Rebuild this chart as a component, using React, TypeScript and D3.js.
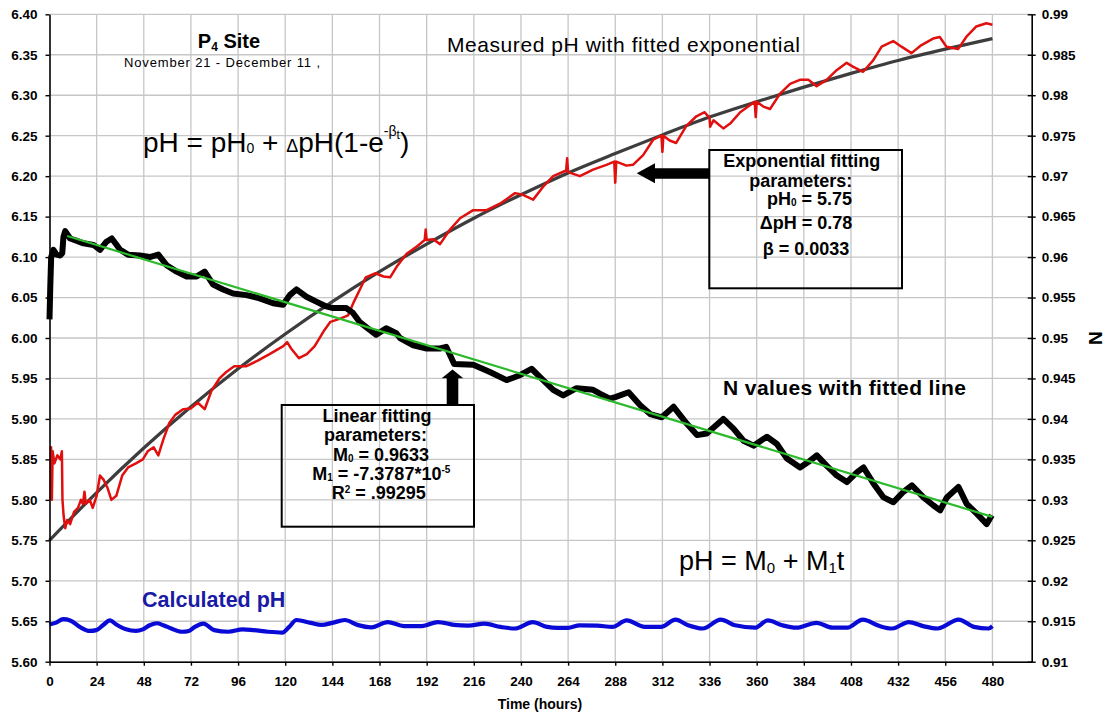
import React, { useRef, useEffect } from "react";
import * as d3 from "d3";

// Measured pH (left axis): [hours, pH]
const measuredPH: [number, number][] = [
  [0.6, 5.8], [0.8, 5.865], [1.2, 5.8], [1.6, 5.86], [2.5, 5.845], [4, 5.855], [5.5, 5.85], [6.3, 5.86],
  [6.6, 5.8], [7.2, 5.78], [8, 5.765], [9, 5.775], [10.5, 5.77], [12.5, 5.785], [14.5, 5.79], [16, 5.8],
  [17, 5.795], [17.8, 5.81], [18.5, 5.795], [20.5, 5.8], [22, 5.79], [24, 5.805], [25.7, 5.83], [27.5, 5.825],
  [29.5, 5.815], [31.5, 5.8], [34, 5.805], [37, 5.83], [40, 5.84], [44, 5.845], [47.5, 5.85], [50, 5.86],
  [53, 5.865], [55.4, 5.855], [58, 5.875], [61, 5.895], [64, 5.905], [68, 5.912], [72, 5.913], [75.5, 5.92],
  [79, 5.912], [82.5, 5.935], [86.5, 5.95], [90, 5.958], [94, 5.965], [100, 5.965], [106, 5.972], [112, 5.98],
  [119, 5.99], [121, 5.995], [123, 5.987], [127, 5.975], [131, 5.98], [135, 5.99], [140, 6.01], [143, 6.02],
  [148, 6.024], [152, 6.028], [155, 6.045], [158, 6.06], [161, 6.075], [166, 6.08], [170, 6.076], [173.4, 6.075],
  [176.7, 6.088], [181.8, 6.104], [187, 6.113], [191, 6.121], [191.5, 6.134], [192, 6.121], [195.4, 6.122],
  [198.8, 6.116], [203.9, 6.134], [209, 6.148], [215.7, 6.158], [222.5, 6.158], [229.3, 6.166], [237, 6.179],
  [241, 6.177], [246.2, 6.171], [251.3, 6.187], [256.4, 6.2], [263, 6.207], [263.5, 6.222], [264, 6.205],
  [270, 6.2], [276.7, 6.208], [283.5, 6.214], [287.5, 6.218], [288, 6.192], [288.5, 6.218], [293.7, 6.213],
  [297, 6.214], [302.2, 6.226], [307.3, 6.245], [311.5, 6.25], [312, 6.23], [312.5, 6.25], [315.7, 6.244],
  [319, 6.241], [324.2, 6.262], [329.3, 6.274], [333.5, 6.279], [336, 6.272], [336.3, 6.261], [338, 6.269],
  [343, 6.259], [346.5, 6.265], [351.6, 6.279], [359, 6.292], [359.5, 6.273], [360, 6.292], [363.4, 6.286],
  [366.8, 6.283], [371.9, 6.302], [377, 6.314], [382, 6.319], [386.3, 6.319], [390.5, 6.311], [395.6, 6.319],
  [400.7, 6.331], [405.8, 6.34], [409.2, 6.335], [414.2, 6.329], [419.3, 6.343], [423.6, 6.36], [429.5, 6.367],
  [433.7, 6.36], [438.8, 6.352], [443.9, 6.362], [449.8, 6.37], [453.2, 6.372], [456.6, 6.36], [462.5, 6.357],
  [466.7, 6.372], [471.8, 6.385], [476.9, 6.389], [480, 6.387],
];

// Fitted exponential (left axis)
const expFit: [number, number][] = [
  [0, 5.75], [24, 5.809], [48, 5.864], [72, 5.915], [96, 5.962], [120, 6.005], [144, 6.045], [168, 6.082],
  [192, 6.116], [216, 6.148], [240, 6.177], [264, 6.204], [288, 6.228], [312, 6.251], [336, 6.273],
  [360, 6.292], [384, 6.31], [408, 6.327], [432, 6.343], [456, 6.357], [480, 6.37],
];

// N values (right axis)
const nValues: [number, number][] = [
  [0, 0.9523], [0.4, 0.9564], [0.85, 0.96], [2, 0.9609], [3.5, 0.9603], [5.5, 0.9602], [6.5, 0.9605],
  [7.1, 0.9625], [8, 0.9632], [10.5, 0.9623], [14, 0.962], [17.3, 0.9617], [22.4, 0.9615], [25.7, 0.9609],
  [29, 0.9619], [31.7, 0.9623], [36, 0.9609], [40, 0.9603], [46, 0.9602], [51, 0.96], [55.4, 0.9603],
  [59.6, 0.959], [64.7, 0.9582], [69.8, 0.9576], [74.9, 0.9576], [79, 0.9582], [83.3, 0.9566], [88.4, 0.956],
  [93.5, 0.9555], [100.3, 0.9553], [107, 0.9549], [113.8, 0.9543], [118.9, 0.9541], [122.3, 0.9553],
  [125.7, 0.956], [130.8, 0.9551], [135.8, 0.9545], [140.9, 0.9539], [144.3, 0.9537], [151, 0.9537],
  [154.5, 0.9531], [157.8, 0.952], [163, 0.951], [166.3, 0.9504], [171.4, 0.9512], [176.5, 0.9506],
  [178.4, 0.95], [185.2, 0.9491], [192, 0.9487], [198.8, 0.9487], [202, 0.9489], [206, 0.9468], [215.7, 0.9467],
  [224.2, 0.9458], [232.7, 0.9448], [239.5, 0.9454], [245.4, 0.9462], [249.6, 0.9452], [256.4, 0.9436],
  [261.5, 0.9429], [268.3, 0.9438], [276.7, 0.9436], [280.4, 0.9431], [285.2, 0.9425], [288, 0.9427],
  [294.8, 0.9433], [300.7, 0.9417], [305.8, 0.9406], [311.7, 0.9402], [317.7, 0.9415], [324.5, 0.9394],
  [329.6, 0.938], [334.6, 0.9382], [343, 0.94], [348.2, 0.9388], [353.3, 0.9373], [358.4, 0.9367],
  [365.2, 0.9378], [370.3, 0.9369], [375.4, 0.9351], [382.1, 0.934], [386.4, 0.9347], [390.6, 0.9355],
  [395.7, 0.9342], [400.8, 0.933], [405.9, 0.9322], [411, 0.9334], [414.4, 0.934], [419.5, 0.932],
  [424.6, 0.9303], [429.6, 0.9297], [434.7, 0.931], [439, 0.9318], [444.9, 0.9303], [450, 0.9293],
  [453.4, 0.9287], [456.8, 0.9303], [462.7, 0.9316], [466.9, 0.9295], [472, 0.9283], [477.1, 0.927],
  [479.7, 0.9281],
];

// Fitted line through N (right axis)
const linFit: [number, number][] = [[9, 0.9626], [480, 0.9279]];

// Calculated pH (left axis)
const calcPH: [number, number][] = [
  [0, 5.646], [3, 5.648], [7, 5.6525], [10.5, 5.651], [15.4, 5.643], [20.5, 5.638], [23.8, 5.639],
  [27.2, 5.645], [30.8, 5.651], [34, 5.646], [39, 5.64], [44, 5.638], [47.5, 5.64], [51, 5.645],
  [54.7, 5.6475], [58, 5.645], [62, 5.641], [67.4, 5.637], [71, 5.638], [74, 5.643], [78.4, 5.647],
  [83.8, 5.639], [91, 5.637], [98.4, 5.64], [103.9, 5.639], [111.2, 5.637], [118.5, 5.636], [122, 5.643],
  [125.7, 5.6515], [133, 5.648], [138.5, 5.6455], [144, 5.648], [150.3, 5.6515], [156.7, 5.6455],
  [164, 5.6425], [172.2, 5.649], [180.4, 5.644], [189.5, 5.644], [197.7, 5.649], [205.9, 5.6455],
  [213.2, 5.6445], [221.4, 5.647], [229.6, 5.643], [236.9, 5.641], [246, 5.649], [253.3, 5.643],
  [258.8, 5.6418], [264, 5.6418], [269.9, 5.645], [279, 5.6445], [286.5, 5.643], [293.8, 5.651],
  [303, 5.643], [311.3, 5.643], [318.7, 5.652], [325.1, 5.645], [332.5, 5.641], [341.7, 5.652],
  [349, 5.645], [359.2, 5.642], [365.6, 5.651], [373, 5.645], [380.3, 5.642], [390.4, 5.648],
  [398.7, 5.642], [406.1, 5.642], [414, 5.652], [422.6, 5.644], [429, 5.641], [437.4, 5.649],
  [444.7, 5.644], [452.1, 5.641], [462.8, 5.652], [470.6, 5.643], [478, 5.641], [480, 5.644],
];

// Tick values
const phTicks = [5.6, 5.65, 5.7, 5.75, 5.8, 5.85, 5.9, 5.95, 6.0, 6.05, 6.1, 6.15, 6.2, 6.25, 6.3, 6.35, 6.4];
const nTicks = [0.91, 0.915, 0.92, 0.925, 0.93, 0.935, 0.94, 0.945, 0.95, 0.955, 0.96, 0.965, 0.97, 0.975, 0.98, 0.985, 0.99];
const hourTicks = [0, 24, 48, 72, 96, 120, 144, 168, 192, 216, 240, 264, 288, 312, 336, 360, 384, 408, 432, 456, 480];

const W = 1106;
const H = 715;
const FONT = "'Liberation Sans', Arial, Helvetica, sans-serif";

const App: React.FC = () => {
  const chartRef = useRef<SVGSVGElement | null>(null);

  useEffect(() => {
    if (!chartRef.current) return;
    const svg = d3.select(chartRef.current);
    svg.selectAll("*").remove();

    // plot box
    const left = 49.5, right = 1031.7, top = 14.3, bottom = 661.7;
    const x = d3.scaleLinear().domain([0, 500]).range([left, right]);
    const yL = d3.scaleLinear().domain([5.6, 6.4]).range([bottom, top]);
    const yR = d3.scaleLinear().domain([0.91, 0.99]).range([bottom, top]);

    svg.append("rect").attr("width", W).attr("height", H).attr("fill", "#fff");

    // Gridlines
    const grid = svg.append("g").attr("stroke", "#c6c6c6").attr("stroke-width", 1.3);
    grid.selectAll("line.h").data(phTicks).join("line").attr("class", "h")
      .attr("x1", left).attr("x2", right)
      .attr("y1", (d) => yL(d)).attr("y2", (d) => yL(d));
    grid.selectAll("line.v").data(hourTicks.filter((d) => d > 0)).join("line").attr("class", "v")
      .attr("x1", (d) => x(d)).attr("x2", (d) => x(d))
      .attr("y1", top).attr("y2", bottom);

    // Series
    const lineL = d3.line<[number, number]>().x((d) => x(d[0])).y((d) => yL(d[1]));
    const smoothL = d3.line<[number, number]>().x((d) => x(d[0])).y((d) => yL(d[1])).curve(d3.curveMonotoneX);
    const lineR = d3.line<[number, number]>().x((d) => x(d[0])).y((d) => yR(d[1]));

    svg.append("path").attr("d", smoothL(calcPH)!)
      .attr("fill", "none").attr("stroke", "#0a0ad6").attr("stroke-width", 4.2).attr("stroke-linejoin", "round");

    svg.append("path").attr("d", smoothL(expFit)!)
      .attr("fill", "none").attr("stroke", "#3d3d3d").attr("stroke-width", 3.2);

    svg.append("path").attr("d", lineL(measuredPH)!)
      .attr("fill", "none").attr("stroke", "#e0100f").attr("stroke-width", 2.5).attr("stroke-linejoin", "round");

    svg.append("path").attr("d", lineR(nValues)!)
      .attr("fill", "none").attr("stroke", "#000").attr("stroke-width", 6).attr("stroke-linejoin", "round");

    svg.append("path").attr("d", lineR(linFit)!)
      .attr("fill", "none").attr("stroke", "#2cba2c").attr("stroke-width", 2.2);

    // Axes
    const styleAxis = (g: any) => {
      g.attr("font-family", FONT).attr("font-size", 13.5).attr("font-weight", "bold");
      g.select(".domain").attr("stroke", "#000").attr("stroke-width", 1.6);
      g.selectAll(".tick line").attr("stroke", "#000").attr("stroke-width", 1.4);
      g.selectAll(".tick text").attr("fill", "#000");
    };
    svg.append("g").attr("transform", `translate(${left},0)`)
      .call(d3.axisLeft(yL).tickValues(phTicks).tickFormat(d3.format(".2f") as any).tickSize(4).tickSizeOuter(0).tickPadding(8))
      .call(styleAxis);
    svg.append("g").attr("transform", `translate(${right},0)`)
      .call(d3.axisRight(yR).tickValues(nTicks).tickFormat(d3.format(".3~f") as any).tickSize(4).tickSizeOuter(0).tickPadding(6))
      .call(styleAxis)
      .call((g: any) => g.selectAll(".tick line").attr("x1", -4));
    svg.append("g").attr("transform", `translate(0,${bottom})`)
      .call(d3.axisBottom(x).tickValues(hourTicks).tickFormat(d3.format("d") as any).tickSize(4).tickSizeOuter(0).tickPadding(11))
      .call(styleAxis);

    // Axis titles
    svg.append("text").attr("x", 540).attr("y", 709).attr("text-anchor", "middle")
      .attr("font-family", FONT).attr("font-size", 14).attr("font-weight", "bold").text("Time (hours)");
    svg.append("text").attr("transform", "translate(1089,338) rotate(90)").attr("text-anchor", "middle")
      .attr("font-family", FONT).attr("font-size", 19).attr("font-weight", "bold").text("N");

    // Titles
    const site = svg.append("text").attr("x", 229).attr("y", 48).attr("text-anchor", "middle")
      .attr("font-family", FONT).attr("font-size", 20).attr("font-weight", "bold");
    site.append("tspan").text("P");
    site.append("tspan").attr("font-size", 12).attr("dy", 3).text("4");
    site.append("tspan").attr("dy", -3).text(" Site");
    svg.append("text").attr("x", 124).attr("y", 67).attr("font-family", FONT).attr("font-size", 13)
      .attr("textLength", 196).attr("lengthAdjust", "spacing").text("November 21 - December 11 ,");
    svg.append("text").attr("x", 447).attr("y", 52).attr("font-family", FONT).attr("font-size", 21)
      .attr("textLength", 353).attr("lengthAdjust", "spacing").text("Measured pH with fitted exponential");

    // Exponential equation
    const eq = svg.append("text").attr("x", 143).attr("y", 152).attr("font-family", FONT).attr("font-size", 28);
    eq.append("tspan").text("pH = pH");
    eq.append("tspan").attr("font-size", 14).attr("dy", 1).text("0");
    eq.append("tspan").attr("dy", -1).text(" + ");
    eq.append("tspan").attr("font-size", 18).text("Δ");
    eq.append("tspan").text("pH(1-e");
    eq.append("tspan").attr("font-size", 14).attr("dy", -16).text("-β");
    eq.append("tspan").attr("font-size", 12).attr("dy", 3).text("t");
    eq.append("tspan").attr("dy", 13).text(")");

    // Linear equation
    const eq2 = svg.append("text").attr("x", 679).attr("y", 570).attr("font-family", FONT).attr("font-size", 27);
    eq2.append("tspan").text("pH = M");
    eq2.append("tspan").attr("font-size", 15).attr("dy", 3).text("0");
    eq2.append("tspan").attr("dy", -3).text(" + M");
    eq2.append("tspan").attr("font-size", 15).attr("dy", 3).text("1");
    eq2.append("tspan").attr("dy", -3).text("t");

    // Series labels
    svg.append("text").attr("x", 723).attr("y", 395).attr("font-family", FONT).attr("font-size", 21)
      .attr("font-weight", "bold").attr("textLength", 243).attr("lengthAdjust", "spacing").text("N values with fitted line");
    svg.append("text").attr("x", 142).attr("y", 607).attr("font-family", FONT).attr("font-size", 21.5)
      .attr("font-weight", "bold").attr("fill", "#1a1aa6").text("Calculated pH");

    // Exponential parameters box
    svg.append("rect").attr("x", 709.3).attr("y", 150).attr("width", 192.7).attr("height", 138.3)
      .attr("fill", "none").attr("stroke", "#000").attr("stroke-width", 2);
    const bx = svg.append("g").attr("font-family", FONT).attr("font-size", 18).attr("font-weight", "bold").attr("text-anchor", "middle");
    bx.append("text").attr("x", 801.7).attr("y", 166.7).text("Exponential fitting");
    bx.append("text").attr("x", 800.8).attr("y", 186.7).text("parameters:");
    const p0 = bx.append("text").attr("x", 809.5).attr("y", 205);
    p0.append("tspan").text("pH");
    p0.append("tspan").attr("font-size", 10).attr("dy", 1).text("0");
    p0.append("tspan").attr("dy", -1).text(" = 5.75");
    bx.append("text").attr("x", 806).attr("y", 229.3).text("ΔpH = 0.78");
    bx.append("text").attr("x", 806).attr("y", 255).text("β = 0.0033");

    // Linear parameters box
    svg.append("rect").attr("x", 281.7).attr("y", 405).attr("width", 192.3).attr("height", 121.7)
      .attr("fill", "none").attr("stroke", "#000").attr("stroke-width", 2);
    const lb = svg.append("g").attr("font-family", FONT).attr("font-size", 18).attr("font-weight", "bold").attr("text-anchor", "middle");
    lb.append("text").attr("x", 377).attr("y", 421.7).text("Linear fitting");
    lb.append("text").attr("x", 375.5).attr("y", 440.7).text("parameters:");
    const m0 = lb.append("text").attr("x", 381).attr("y", 460.7);
    m0.append("tspan").text("M");
    m0.append("tspan").attr("font-size", 10).attr("dy", 1).text("0");
    m0.append("tspan").attr("dy", -1).text(" = 0.9633");
    const m1 = lb.append("text").attr("x", 381.3).attr("y", 480);
    m1.append("tspan").text("M");
    m1.append("tspan").attr("font-size", 10).attr("dy", 1).text("1");
    m1.append("tspan").attr("dy", -1).text(" = -7.3787*10");
    m1.append("tspan").attr("font-size", 10).attr("dy", -7).text("-5");
    const r2 = lb.append("text").attr("x", 378.7).attr("y", 499);
    r2.append("tspan").text("R");
    r2.append("tspan").attr("font-size", 10).attr("dy", -6).text("2");
    r2.append("tspan").attr("dy", 6).text(" = .99295");

    // Arrows
    svg.append("path")
      .attr("d", "M636.7,173.3 L655,163.3 L655,168.3 L709.3,168.3 L709.3,178.8 L655,178.8 L655,183.3 Z")
      .attr("fill", "#000");
    svg.append("path")
      .attr("d", "M452.5,369.5 L463.3,378.3 L458.3,378.3 L458.3,405 L446.7,405 L446.7,378.3 L441.7,378.3 Z")
      .attr("fill", "#000");
  }, []);

  return (
    <div style={{ position: "absolute", left: 0, top: 0 }}>
      <svg ref={chartRef} width={W} height={H} style={{ display: "block" }} />
    </div>
  );
};

export default App;
